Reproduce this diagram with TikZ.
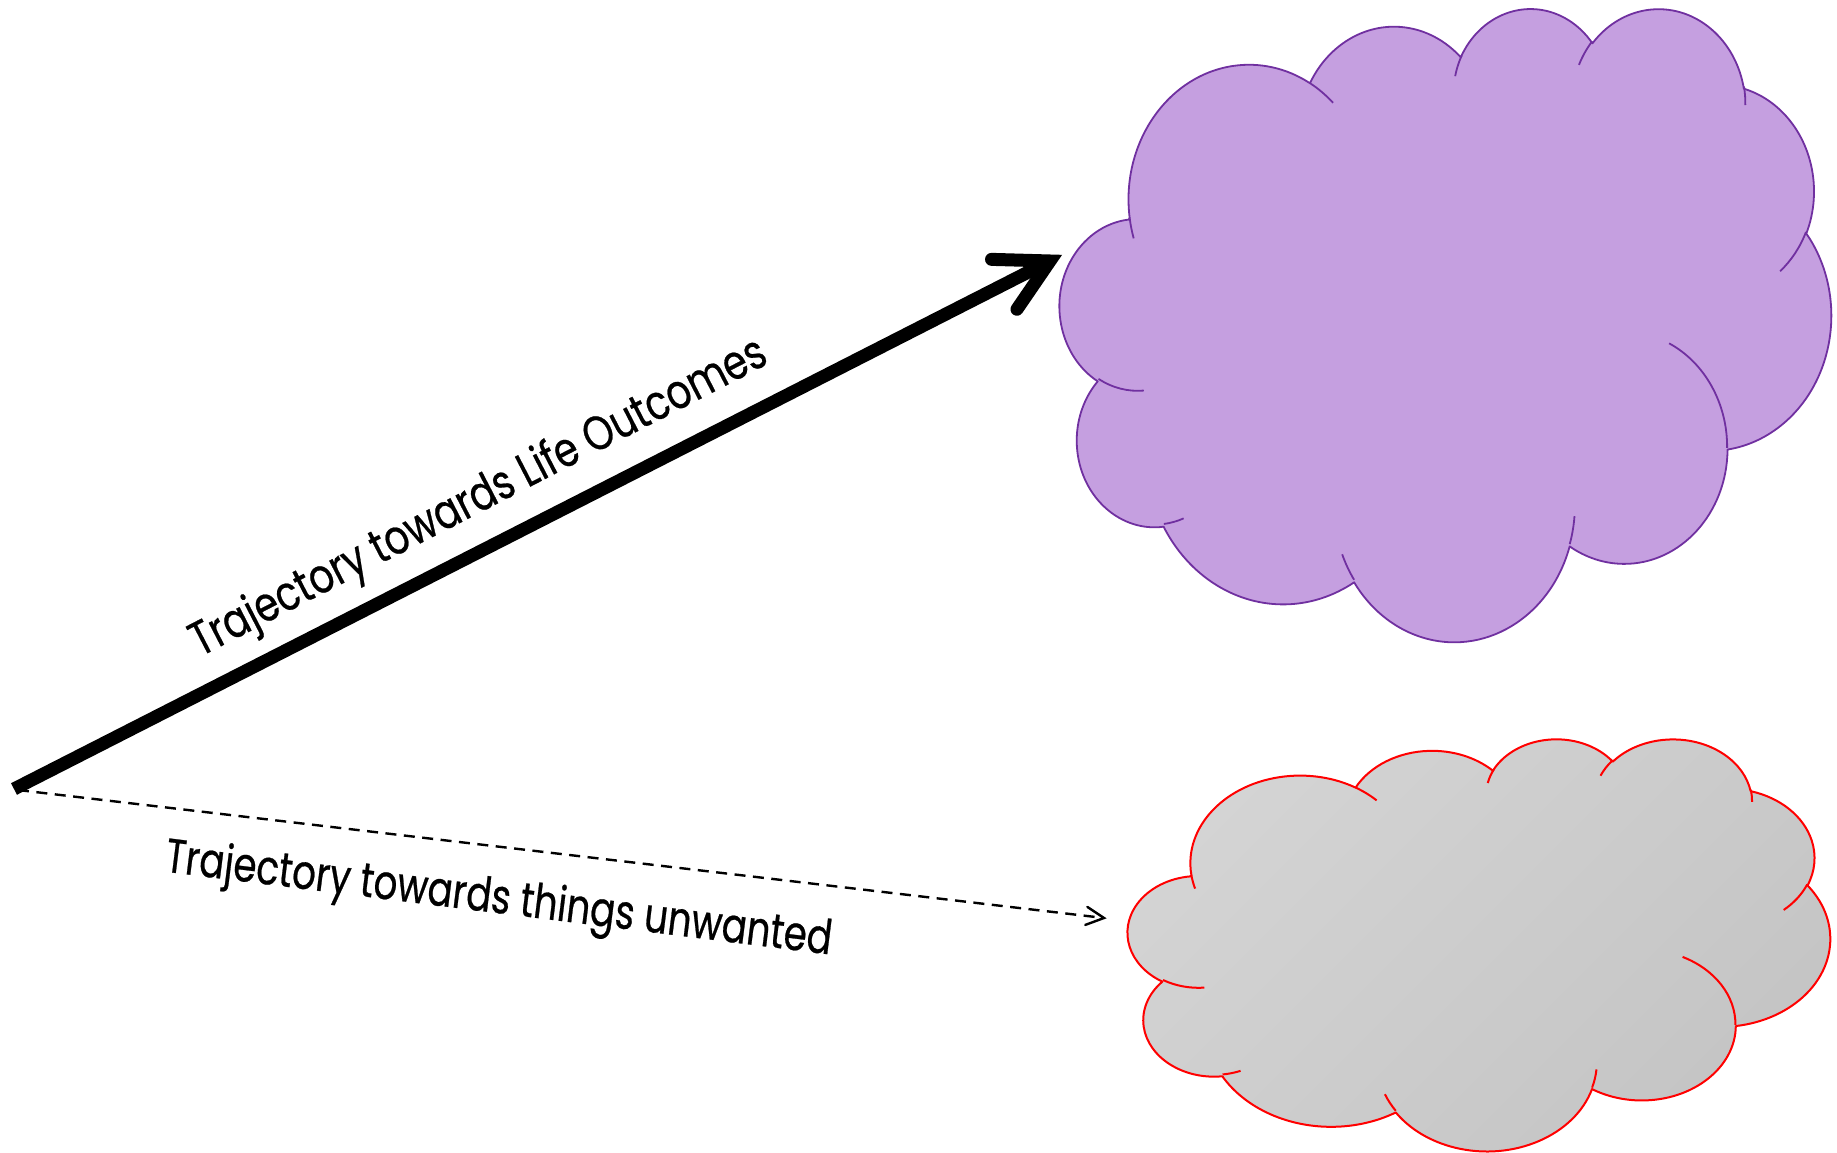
\documentclass[tikz,border=0pt]{standalone}
\usepackage{fontspec}
\usetikzlibrary{calc}
\newfontfamily\labelfont{Poppins}[FakeStretch=0.8, FakeBold=0.5]
\newfontfamily\labelfontnarrow{Poppins}[FakeStretch=0.775, FakeBold=0.5]

\definecolor{cloudpurple}{HTML}{C59FE0}
\definecolor{cloudpurpleedge}{HTML}{7030A0}
\definecolor{greylight}{HTML}{D4D4D4}
\definecolor{greydark}{HTML}{C4C4C4}
\definecolor{cloudred}{HTML}{FF0000}

% Cloud outline in a 432 x 432 box (y downwards), built from elliptical arcs.
% \cloudarc{x radius}{y radius}{start angle}{sweep}: angles are geometric
% angles on the ellipse and are turned into parametric ones here.
\def\cloudpath{}
\newcommand\cloudarc[4]{%
  \pgfmathsetmacro\cldS{atan2((#1)*sin(#3),(#2)*cos(#3))}%
  \pgfmathsetmacro\cldE{atan2((#1)*sin((#3)+(#4)),(#2)*cos((#3)+(#4)))}%
  \pgfmathsetmacro\cldD{\cldE-\cldS}%
  \pgfmathsetmacro\cldD{\cldD-360*round((\cldD-(#4))/360)}%
  \xdef\cloudpath{\unexpanded\expandafter{\cloudpath} arc[x radius=#1, y radius=#2, start angle=\cldS, delta angle=\cldD]}%
}
\newcommand\cloudmove[2]{\xdef\cloudpath{\unexpanded\expandafter{\cloudpath} (#1,#2)}}

% outer outline
\cloudmove{39.00}{143.70}
\cloudarc{67.53}{91.90}{-190.487483}{123.780533}
\cloudarc{53.33}{72.67}{-144.102383}{89.945233}
\cloudarc{43.65}{59.45}{-145.807917}{99.723017}
\cloudarc{48.57}{65.95}{-130.986067}{117.241733}
\cloudarc{53.33}{72.73}{-78.708883}{109.026917}
\cloudarc{67.75}{92.20}{-46.267250}{130.269}
\cloudarc{57.85}{78.67}{0.625017}{114.033333}
\cloudarc{67.52}{92.15}{22.4516}{115.172550}
\cloudarc{77.20}{105.43}{66.242633}{75.711017}
\cloudarc{43.60}{59.18}{-274.942083}{146.735567}
\cloudarc{43.45}{59.45}{-246.8285}{152.518850}
\let\cloudbody\cloudpath

% inner puff lines
\def\cloudpath{}
\cloudmove{46.93}{261.77}\cloudarc{43.45}{59.45}{86.742}{26.4295}
\cloudmove{69.28}{348.99}\cloudarc{43.60}{59.18}{73.610467}{11.447467}
\cloudmove{164.78}{390.90}\cloudarc{67.52}{92.15}{137.624150}{14.0811}
\cloudmove{288.27}{347.51}\cloudarc{67.52}{92.15}{6.453267}{15.99835}
\cloudmove{341.29}{229.54}\cloudarc{57.85}{78.67}{-70.29235}{70.917367}
\cloudmove{417.98}{153.54}\cloudarc{53.33}{72.73}{30.318033}{27.7515}
\cloudmove{383.24}{54.26}\cloudarc{48.57}{65.95}{-13.744333}{14.857}
\cloudmove{290.78}{39.52}\cloudarc{48.57}{65.95}{-149.18145}{18.195367}
\cloudmove{221.41}{47.20}\cloudarc{43.65}{59.45}{-163.494267}{17.68635}
\cloudmove{140.00}{51.92}\cloudarc{67.53}{91.90}{-66.70695}{12.31935}
\cloudmove{41.27}{157.89}\cloudarc{67.53}{91.90}{157.65435}{11.858167}
\let\cloudinner\cloudpath

\tikzset{
  purplecloud/.style={fill=cloudpurple, draw=cloudpurpleedge, line width=1.8pt, line join=round},
  purplepuff/.style={draw=cloudpurpleedge, line width=1.8pt},
  greycloud/.style={shading=axis, top color=greylight, bottom color=greydark, shading angle=45,
    draw=cloudred, line width=2pt, line join=round},
  greypuff/.style={draw=cloudred, line width=2pt},
  boldline/.style={line width=13pt, line cap=butt},
  boldhead/.style={line width=13pt, line cap=round, line join=miter},
  dashline/.style={line width=2.4pt, dash pattern=on 11pt off 7.5pt},
  dashhead/.style={line width=2.4pt, line cap=round, line join=miter},
  pathlabel/.style={inner sep=0pt, anchor=base, font=\labelfont\fontsize{48}{56}\selectfont},
}

\begin{document}
\begin{tikzpicture}[x=1pt, y=1pt]
  \fill[white] (0,0) rectangle (1837,1152);
  \useasboundingbox (0,0) rectangle (1837,1152);

  % purple cloud
  \begin{scope}[shift={(1060,1145)}, xscale=1.78472, yscale=-1.46528]
    \path[purplecloud] \cloudbody -- cycle;
    \path[purplepuff] \cloudinner;
  \end{scope}

  % grey cloud
  \begin{scope}[shift={(1128,414)}, xscale=1.625, yscale=-0.953704]
    \path[greycloud] \cloudbody -- cycle;
    \path[greypuff] \cloudinner;
  \end{scope}

  % end points of the two trajectories
  \coordinate (trajStart) at (14,363);
  \coordinate (lifeTip) at (1050,891);
  \coordinate (lifeArmA) at ($(lifeTip)!58.5pt!-28.6:(trajStart)$);
  \coordinate (lifeArmB) at ($(lifeTip)!58.5pt!28.6:(trajStart)$);
  \coordinate (dashStart) at (18,362);
  \coordinate (dashTip) at (1104,234);
  \coordinate (dashArmA) at ($(dashTip)!20pt!-27:(dashStart)$);
  \coordinate (dashArmB) at ($(dashTip)!20pt!27:(dashStart)$);

  % dashed trajectory
  \draw[dashline] (dashStart) -- ($(dashTip)!1.5pt!(dashStart)$);
  \draw[dashhead] (dashArmA) -- (dashTip) -- (dashArmB);

  % bold trajectory
  \draw[boldline] (trajStart) -- (lifeTip);
  \draw[boldhead] (lifeArmA) -- (lifeTip) -- (lifeArmB);

  % labels
  \node[pathlabel, rotate=27.3] (lifeLabel) at (485,642) {Trajectory towards Life Outcomes};
  \node[pathlabel, rotate=-7.1, font=\labelfontnarrow\fontsize{48}{56}\selectfont]
    (unwantedLabel) at (497,239) {Trajectory towards things unwanted};
\end{tikzpicture}
\end{document}
